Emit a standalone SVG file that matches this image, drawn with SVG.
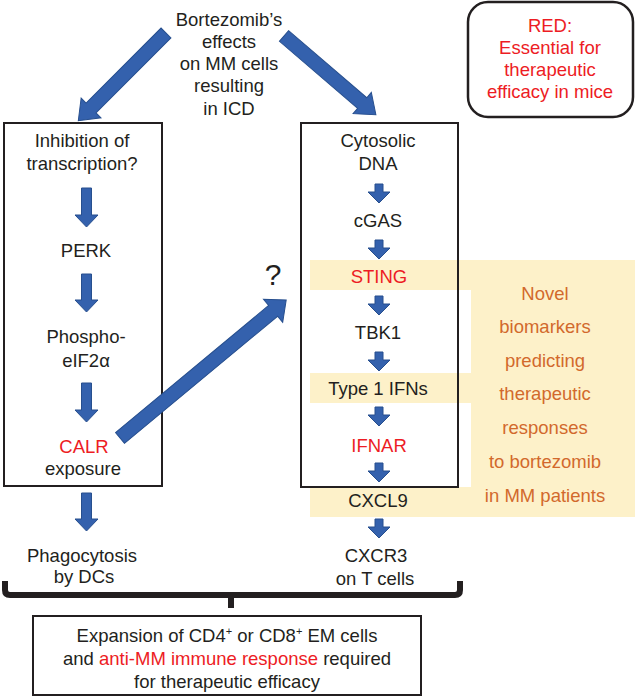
<svg xmlns="http://www.w3.org/2000/svg" width="636" height="697" viewBox="0 0 636 697">
<style>
.t{font-family:"Liberation Sans",Arial,Helvetica,sans-serif;font-size:18.5px;fill:#231f20;text-anchor:middle}
.red{fill:#ed1c24}
.or{fill:#d2692c}
.box{fill:none;stroke:#231f20;stroke-width:2}
.arr{fill:#3461ad;stroke:#274f8e;stroke-width:1;stroke-linejoin:miter}
.hl{fill:#fdf1c9}
.br{fill:none;stroke:#231f20;stroke-width:6;stroke-linejoin:round;stroke-linecap:butt}
</style>
<rect width="636" height="697" fill="#ffffff"/>

<g id="biomarker-highlight">
  <rect class="hl" x="310" y="260" width="325" height="30"/>
  <rect class="hl" x="471" y="260" width="164" height="257"/>
  <rect class="hl" x="310" y="373" width="161" height="30"/>
  <rect class="hl" x="310" y="487" width="325" height="30"/>
  <text class="t or" x="545" y="300">Novel</text>
  <text class="t or" x="545" y="333">biomarkers</text>
  <text class="t or" x="545" y="367">predicting</text>
  <text class="t or" x="545" y="400">therapeutic</text>
  <text class="t or" x="545" y="434">responses</text>
  <text class="t or" x="545" y="468">to bortezomib</text>
  <text class="t or" x="545" y="502">in MM patients</text>
</g>

<g id="node-bortezomib">
  <text class="t" x="229" y="26">Bortezomib’s</text>
  <text class="t" x="229" y="48">effects</text>
  <text class="t" x="229" y="70">on MM cells</text>
  <text class="t" x="229" y="92">resulting</text>
  <text class="t" x="229" y="115">in ICD</text>
</g>

<g id="node-legend">
  <rect x="468" y="2" width="165" height="115" rx="20" ry="20" fill="none" stroke="#231f20" stroke-width="2.5"/>
  <text class="t red" x="550" y="32">RED:</text>
  <text class="t red" x="550" y="54">Essential for</text>
  <text class="t red" x="550" y="76">therapeutic</text>
  <text class="t red" x="550" y="98">efficacy in mice</text>
</g>

<g id="node-left-pathway">
  <rect class="box" x="4" y="123" width="158" height="363"/>
  <text class="t" x="82" y="147">Inhibition of</text>
  <text class="t" x="82" y="170">transcription?</text>
  <text class="t" x="86" y="257">PERK</text>
  <text class="t" x="86" y="343">Phospho-</text>
  <text class="t" x="86" y="367">eIF2α</text>
  <text class="t red" x="84" y="453">CALR</text>
  <text class="t" x="83" y="475">exposure</text>
</g>

<g id="node-phagocytosis">
  <text class="t" x="82" y="562">Phagocytosis</text>
  <text class="t" x="84" y="583">by DCs</text>
</g>

<g id="node-right-pathway">
  <rect class="box" x="301" y="123" width="157" height="364"/>
  <text class="t" x="378" y="147">Cytosolic</text>
  <text class="t" x="378" y="170">DNA</text>
  <text class="t" x="378" y="227">cGAS</text>
  <text class="t red" x="379" y="283">STING</text>
  <text class="t" x="378" y="339">TBK1</text>
  <text class="t" x="378" y="395">Type 1 IFNs</text>
  <text class="t red" x="379" y="452">IFNAR</text>
</g>

<g id="node-cxcl9">
  <text class="t" x="378" y="507">CXCL9</text>
</g>

<g id="node-cxcr3">
  <text class="t" x="376" y="562">CXCR3</text>
  <text class="t" x="375" y="585">on T cells</text>
</g>

<g id="node-question">
  <text class="t" x="273" y="285" style="font-size:30px">?</text>
</g>

<g id="node-outcome">
  <rect class="box" x="33" y="616" width="388" height="79"/>
  <text class="t" x="227" y="642">Expansion of CD4<tspan dy="-7" style="font-size:11px">+</tspan><tspan dy="7"> or CD8</tspan><tspan dy="-7" style="font-size:11px">+</tspan><tspan dy="7"> EM cells</tspan></text>
  <text class="t" x="227" y="665">and <tspan class="red">anti-MM immune response</tspan> required</text>
  <text class="t" x="227" y="688">for therapeutic efficacy</text>
</g>

<g id="connectors">
  <polygon class="arr" transform="translate(166,33) rotate(135)" points="0,-7 106,-7 106,-14 124,0 106,14 106,7 0,7"/>
  <polygon class="arr" transform="translate(284,36) rotate(40.6)" points="0,-7 103,-7 103,-14 121,0 103,14 103,7 0,7"/>
  <polygon class="arr" transform="translate(120,438) rotate(-39.7)" points="0,-7 199,-7 199,-15 216,0 199,15 199,7 0,7"/>

  <polygon class="arr" points="81.5,188 91.5,188 91.5,215 98,215 86.5,227 75,215 81.5,215"/>
  <polygon class="arr" points="81.5,274 91.5,274 91.5,300 98,300 86.5,312 75,300 81.5,300"/>
  <polygon class="arr" points="81.5,383 91.5,383 91.5,410 98,410 86.5,422 75,410 81.5,410"/>
  <polygon class="arr" points="81.5,493 91.5,493 91.5,519 98,519 86.5,531 75,519 81.5,519"/>

  <polygon class="arr" points="375,184 383,184 383,192 390,192 379,203 368,192 375,192"/>
  <polygon class="arr" points="375,240 383,240 383,248 390,248 379,259 368,248 375,248"/>
  <polygon class="arr" points="375,296 383,296 383,304 390,304 379,315 368,304 375,304"/>
  <polygon class="arr" points="375,352 383,352 383,360 390,360 379,371 368,360 375,360"/>
  <polygon class="arr" points="375,407 383,407 383,415 390,415 379,426 368,415 375,415"/>
  <polygon class="arr" points="375,463 383,463 383,471 390,471 379,482 368,471 375,471"/>
  <polygon class="arr" points="375,519 383,519 383,527 390,527 379,538 368,527 375,527"/>

  <path class="br" d="M5,581 L5,590 Q5,595 10,595 L455,595 Q460,595 460,590 L460,581"/>
  <path class="br" d="M231,595 L231,608"/>
</g>
</svg>
